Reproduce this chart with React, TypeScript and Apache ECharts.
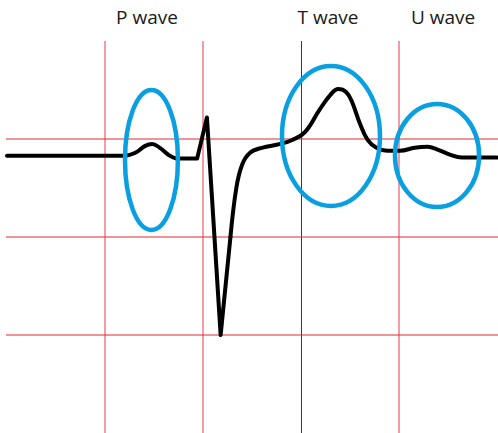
import React, { useEffect, useRef } from "react";
import * as echarts from "echarts";

// Waveform (data units: one grid square = 1)
const baselineAndP: [number, number][] = [
  [0, 2.83], [1.2, 2.83], [1.31, 2.86], [1.41, 2.93], [1.48, 2.95], [1.56, 2.91],
  [1.66, 2.83], [1.73, 2.8],
];
const qrs: [number, number][] = [
  [1.73, 2.8], [1.94, 2.8], [2.04, 3.22], [2.18, 1.0], [2.28, 2.0],
];
const stTU: [number, number][] = [
  [2.28, 2.0], [2.34, 2.5], [2.4, 2.74], [2.48, 2.86], [2.6, 2.91], [2.79, 2.95],
  [2.91, 2.99], [3.04, 3.07], [3.19, 3.3], [3.3, 3.45], [3.38, 3.51], [3.46, 3.48],
  [3.52, 3.38], [3.6, 3.16], [3.68, 2.99], [3.77, 2.91], [3.88, 2.88], [4.01, 2.88],
  [4.16, 2.91], [4.29, 2.92], [4.4, 2.89], [4.52, 2.84], [4.64, 2.81], [5.0, 2.81],
];

// Grid lines (data positions)
const redVerticals = [1, 2, 4];
const darkVerticals = [3];
const redHorizontals = [1, 2, 3];

// Highlight ellipses: [cx, cy, rx, ry]
const highlights: [number, number, number, number][] = [
  [1.474, 2.786, 0.27, 0.714],
  [3.306, 3.031, 0.5, 0.714],
  [4.388, 2.832, 0.429, 0.526],
];

const waveLabels = ["P wave", "T wave", "U wave"];
const labelX = [147, 328, 443];

type Rule = { dir: "v" | "h"; v: number; color: string; crisp: boolean };
const rules: Rule[] = [
  ...redVerticals.map((v) => ({ dir: "v" as const, v, color: "#ea3a4c", crisp: false })),
  ...darkVerticals.map((v) => ({ dir: "v" as const, v, color: "#b8001a", crisp: true })),
  ...redHorizontals.map((v) => ({ dir: "h" as const, v, color: "#e02834", crisp: false })),
];

export default function App() {
  const ref = useRef<HTMLDivElement>(null);
  useEffect(() => {
    document.body.style.margin = "0";
    const chart = echarts.init(ref.current!, undefined, { renderer: "svg" });
    const waveStyle = { color: "#000", width: 4, cap: "round", join: "round" };
    chart.setOption({
      animation: false,
      grid: { left: 7, top: 41, width: 490, height: 392 },
      xAxis: { type: "value", min: 0, max: 5, show: false },
      yAxis: { type: "value", min: 0, max: 4, show: false },
      graphic: waveLabels.map((t, i) => ({
        type: "text",
        x: labelX[i],
        y: 17,
        style: {
          text: t,
          fill: "#1a1a1a",
          font: '19px "Open Sans", sans-serif',
          textAlign: "center",
          textVerticalAlign: "middle",
        },
      })),
      series: [
        {
          type: "custom",
          z: 1,
          silent: true,
          data: rules.map((r, i) => [i]),
          renderItem: (params: any, api: any) => {
            const r = rules[params.dataIndex];
            const cs = params.coordSys;
            const off = r.crisp ? 0.5 : 0;
            let shape;
            if (r.dir === "v") {
              const x = Math.round(api.coord([r.v, 0])[0]) + off;
              shape = { x1: x, y1: cs.y, x2: x, y2: cs.y + cs.height };
            } else {
              const y = Math.round(api.coord([0, r.v])[1]) + off;
              shape = { x1: cs.x - 1, y1: y, x2: cs.x + cs.width + 1, y2: y };
            }
            return {
              type: "line",
              shape,
              style: { stroke: r.color, lineWidth: 1 },
            };
          },
        },
        { type: "line", data: baselineAndP, symbol: "none", smooth: 0.4, lineStyle: waveStyle, z: 3 },
        { type: "line", data: qrs, symbol: "none", smooth: false, lineStyle: waveStyle, z: 3 },
        { type: "line", data: stTU, symbol: "none", smooth: 0.4, lineStyle: waveStyle, z: 3 },
        {
          type: "custom",
          z: 5,
          data: highlights,
          renderItem: (params: any, api: any) => {
            const c = api.coord([api.value(0), api.value(1)]);
            const s = api.size([api.value(2), api.value(3)]);
            return {
              type: "ellipse",
              shape: { cx: c[0], cy: c[1], rx: s[0], ry: s[1] },
              style: { fill: "none", stroke: "#0a9fe0", lineWidth: 4.5 },
            };
          },
        },
      ],
    });
    return () => chart.dispose();
  }, []);
  return <div ref={ref} style={{ width: 498, height: 433 }} />;
}
